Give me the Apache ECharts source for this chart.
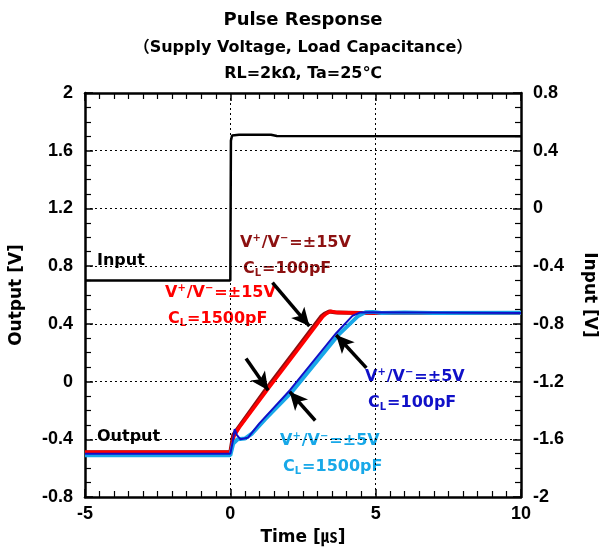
<!DOCTYPE html>
<html><head><meta charset="utf-8">
<script src="https://cdn.jsdelivr.net/npm/echarts@6/dist/echarts.min.js"></script>
<style>html,body{margin:0;padding:0;background:#fff}#c{width:606px;height:551px}</style>
</head><body><div id="c"></div>
<script>
// ---- data (time in µs, volts) ----
const inputPulse = [[-5,-0.5],[0,-0.5],[0.02,0.47],[0.06,0.505],[0.3,0.51],[1.4,0.51],[1.6,0.502],[10,0.5]];
const red15_100 = [[-5,-0.49],[0,-0.49],[0.04,-0.44],[0.1,-0.37],[0.24,-0.33],[1.24,-0.05],[2.24,0.215],[3.12,0.45],[3.24,0.47],[3.4,0.486],[3.65,0.478],[4.5,0.475],[10,0.475]];
const red15_1500 = [[-5,-0.49],[0,-0.49],[0.05,-0.45],[0.12,-0.38],[0.3,-0.32],[1.3,-0.05],[2.3,0.215],[3.18,0.45],[3.3,0.47],[3.45,0.487],[3.7,0.478],[4.5,0.475],[10,0.475]];
const blue5_100 = [[-5,-0.5],[0,-0.5],[0.08,-0.42],[0.15,-0.33],[0.22,-0.37],[0.35,-0.4],[0.6,-0.39],[1.0,-0.29],[2.05,-0.06],[3.64,0.335],[4.2,0.455],[4.45,0.478],[4.7,0.48],[10,0.475]];
const blue5_1500 = [[-5,-0.51],[0,-0.51],[0.1,-0.43],[0.25,-0.4],[0.5,-0.395],[0.75,-0.36],[1.2,-0.26],[2.1,-0.075],[3.7,0.32],[4.4,0.455],[4.65,0.48],[4.9,0.483],[5.2,0.475],[6,0.478],[7,0.475],[10,0.477]];
// arrows: [from, to] in data units (left axis)
const arrows = [
  [[1.45,0.685],[2.72,0.385]],
  [[0.54,0.16],[1.30,-0.06]],
  [[4.68,0.095],[3.64,0.323]],
  [[2.92,-0.27],[2.04,-0.07]]
];
const leftTicks = {min:-0.8, max:2, interval:0.4};
const rightTicks = {min:-2, max:0.8, interval:0.4};
const xTicks = {min:-5, max:10, interval:5};

const FONT = 'Liberation Sans';
const WIDE = '"DejaVu Sans", "Noto Sans CJK JP", sans-serif';
const chart = echarts.init(document.getElementById('c'));
const fmt = v => String(+(+v).toFixed(1));
const axisCommon = {
  axisLine:{show:true, onZero:false, lineStyle:{color:'#000', width:2.5}},
  axisTick:{show:true, inside:true, length:8, lineStyle:{color:'#000', width:1.5}},
  minorTick:{show:true, length:6, lineStyle:{color:'#000', width:1.2}},
  axisLabel:{color:'#000', fontFamily:FONT, fontWeight:'bold', fontSize:18},
};
const sup = {fontSize:10, fontWeight:'bold', verticalAlign:'top', padding:[0,1,9,0]};
const sub = {fontSize:10, fontWeight:'bold', padding:[9,1,0,0]};
function label(x, y, color, l1, l2){
  const base = {fontFamily:WIDE, fontWeight:'bold', fontSize:16, fill:color};
  const r = {sup:Object.assign({fill:color, fontFamily:WIDE}, sup), sub:Object.assign({fill:color, fontFamily:WIDE}, sub)};
  return [
    {type:'text', left:x, top:y, style:Object.assign({text:l1, rich:r}, base)},
    {type:'text', left:x+3, top:y+28, style:Object.assign({text:l2, rich:r}, base)}
  ];
}
const l1 = 'V{sup|+}/V{sup|−}=±15V';
const l1b = 'V{sup|+}/V{sup|−}=±5V';
function series(name, data, color, width, z){
  return {name, type:'line', data, showSymbol:false, symbol:'none', z, lineStyle:{color, width}, animation:false};
}
chart.setOption({
  animation:false,
  textStyle:{fontFamily:FONT},
  title:[
    {text:'Pulse Response', left:'center', top:6, textStyle:{fontFamily:WIDE, fontWeight:'bold', fontSize:18, color:'#000'}},
    {text:'（Supply Voltage, Load Capacitance）', left:'center', top:35, textStyle:{fontFamily:WIDE, fontWeight:'bold', fontSize:16, color:'#000'}},
    {text:'RL=2kΩ, Ta=25℃', left:'center', top:61, textStyle:{fontFamily:WIDE, fontWeight:'bold', fontSize:16, color:'#000'}}
  ],
  grid:{left:84, right:83, top:93, bottom:54, containLabel:false},
  xAxis:[
    Object.assign({}, axisCommon, {type:'value', position:'bottom', min:xTicks.min, max:xTicks.max, interval:xTicks.interval,
      minorTick:Object.assign({}, axisCommon.minorTick, {splitNumber:10}),
      axisLabel:Object.assign({}, axisCommon.axisLabel, {margin:8, formatter:fmt}),
      name:'Time [㎲]', nameLocation:'middle', nameGap:32,
      nameTextStyle:{fontFamily:WIDE, fontWeight:'bold', fontSize:17, color:'#000'},
      splitLine:{show:true, lineStyle:{color:'#000', type:[2,3], width:1}}}),
    Object.assign({}, axisCommon, {type:'value', position:'top', min:xTicks.min, max:xTicks.max, interval:xTicks.interval,
      minorTick:Object.assign({}, axisCommon.minorTick, {splitNumber:10}),
      axisLabel:{show:false}, splitLine:{show:false}})
  ],
  yAxis:[
    Object.assign({}, axisCommon, {type:'value', position:'left', min:leftTicks.min, max:leftTicks.max, interval:leftTicks.interval,
      minorTick:Object.assign({}, axisCommon.minorTick, {splitNumber:4}),
      axisLabel:Object.assign({}, axisCommon.axisLabel, {margin:12, formatter:fmt}),
      name:'Output [V]', nameLocation:'middle', nameGap:60, nameRotate:90,
      nameTextStyle:{fontFamily:WIDE, fontWeight:'bold', fontSize:17, color:'#000'},
      splitLine:{show:true, lineStyle:{color:'#000', type:[2,3], width:1}}}),
    Object.assign({}, axisCommon, {type:'value', position:'right', min:rightTicks.min, max:rightTicks.max, interval:rightTicks.interval,
      minorTick:Object.assign({}, axisCommon.minorTick, {splitNumber:4}),
      axisLabel:Object.assign({}, axisCommon.axisLabel, {margin:12, formatter:fmt}),
      name:'Input [V]', nameLocation:'middle', nameGap:60, nameRotate:-90,
      nameTextStyle:{fontFamily:WIDE, fontWeight:'bold', fontSize:17, color:'#000'},
      splitLine:{show:false}})
  ],
  series:[
    series('Input', inputPulse, '#000', 2.5, 5),
    series('+-15V 100pF', red15_100, '#8c1010', 4, 2),
    series('+-15V 1500pF', red15_1500, '#ff0000', 3.5, 3),
    series('+-5V 1500pF', blue5_1500, '#18a8e8', 4, 4),
    series('+-5V 100pF', blue5_100, '#1010c8', 2, 5),
    {type:'line', data:[], z:10, silent:true,
      markLine:{silent:true, symbol:['none','arrow'], symbolSize:[13,18], animation:false,
        label:{show:false}, lineStyle:{color:'#000', width:3.5, type:'solid'},
        data:arrows.map(a => [{coord:a[0]},{coord:a[1]}])}}
  ].map((s,i) => i===0 ? Object.assign(s, {yAxisIndex:1}) : s),
  graphic:[
    {type:'text', left:97, top:253, style:{text:'Input', fontFamily:WIDE, fontWeight:'bold', fontSize:16, fill:'#000'}},
    {type:'text', left:97, top:429, style:{text:'Output', fontFamily:WIDE, fontWeight:'bold', fontSize:16, fill:'#000'}},
    ...label(240, 233, '#8c1010', l1, 'C{sub|L}=100pF'),
    ...label(165, 283, '#ff0000', l1, 'C{sub|L}=1500pF'),
    ...label(365, 367, '#1010c8', l1b, 'C{sub|L}=100pF'),
    ...label(280, 431, '#18a8e8', l1b, 'C{sub|L}=1500pF')
  ]
});
</script></body></html>
